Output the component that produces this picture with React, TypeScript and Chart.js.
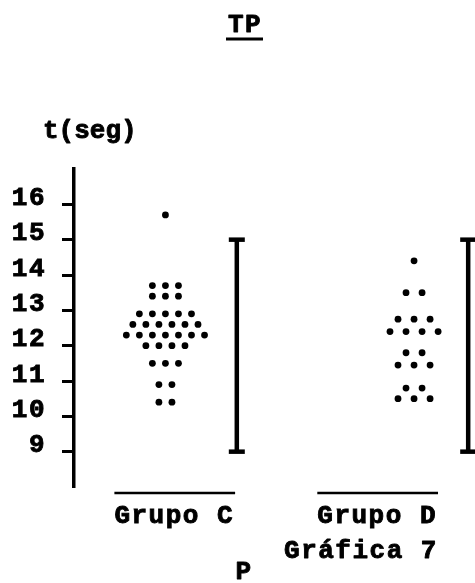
import { useEffect, useRef } from 'react';
import { Chart, registerables } from 'chart.js';

Chart.register(...registerables);

// Text
const chartTitle = 'TP';
const yAxisTitle = 't(seg)';
const groupNames = ['Grupo C', 'Grupo D'];
const caption = 'Gráfica 7';
const footLabel = 'P';

// Y axis ticks (seconds)
const yTicks = [9, 10, 11, 12, 13, 14, 15, 16];

// Individual times (s), one entry per subject
const groupC = [
  15.7,
  13.7, 13.7, 13.7,
  13.4, 13.4, 13.4,
  12.9, 12.9, 12.9, 12.9, 12.9,
  12.6, 12.6, 12.6, 12.6, 12.6, 12.6,
  12.3, 12.3, 12.3, 12.3, 12.3, 12.3, 12.3,
  12.0, 12.0, 12.0, 12.0,
  11.5, 11.5, 11.5,
  10.9, 10.9,
  10.4, 10.4,
];
const groupD = [
  14.4,
  13.5, 13.5,
  12.75, 12.75, 12.75,
  12.4, 12.4, 12.4, 12.4,
  11.8, 11.8,
  11.45, 11.45, 11.45,
  10.8, 10.8,
  10.5, 10.5, 10.5,
];

// Reference range drawn beside each group (s)
const rangeLow = [9, 9];
const rangeHigh = [15, 15];

// Horizontal layout on a 0..100 x scale
const dotCenters = [22.8, 84.8];
const dotSteps = [3.25, 4.0];
const rangeBarX = [40.6, 98.3];
const groupLabelX = [25, 75.6];

const FONT_FAMILY = '"Liberation Mono", "DejaVu Sans Mono", monospace';
const LETTER_SPACING = '1.5px';
const INK_STROKE = 0.9;

// Dots with equal values sit side by side in a row, centred on the group
function dotRows(values: number[], center: number, step: number) {
  const counts = new Map<number, number>();
  values.forEach((v) => counts.set(v, (counts.get(v) || 0) + 1));
  const used = new Map<number, number>();
  return values.map((v) => {
    const n = counts.get(v) || 1;
    const i = used.get(v) || 0;
    used.set(v, i + 1);
    return { x: center + (i - (n - 1) / 2) * step, y: v };
  });
}

const spacingPlugin = {
  id: 'typewriterSpacing',
  beforeDraw(chart: any) {
    (chart.ctx as any).letterSpacing = LETTER_SPACING;
  },
};

// Heavy typewriter-style text: fill plus a thin stroke of the same ink
function typeText(ctx: CanvasRenderingContext2D, text: string, x: number, y: number) {
  ctx.fillText(text, x, y);
  ctx.lineWidth = INK_STROKE;
  ctx.strokeText(text, x, y);
}

const annotationsPlugin = {
  id: 'typedAnnotations',
  afterDraw(chart: any) {
    const { ctx, chartArea, scales } = chart;
    const xs = scales.x;
    ctx.save();
    (ctx as any).letterSpacing = LETTER_SPACING;
    ctx.fillStyle = '#000';
    ctx.strokeStyle = '#000';
    ctx.lineJoin = 'round';
    ctx.textBaseline = 'middle';
    ctx.font = `bold 26px ${FONT_FAMILY}`;

    // Title with underline
    ctx.textAlign = 'center';
    typeText(ctx, chartTitle, 245, 25);
    ctx.lineWidth = 3;
    ctx.beginPath();
    ctx.moveTo(226, 39);
    ctx.lineTo(263, 39);
    ctx.stroke();

    // Axis unit
    (ctx as any).letterSpacing = '0px';
    ctx.textAlign = 'left';
    typeText(ctx, yAxisTitle, 43, 131);
    (ctx as any).letterSpacing = LETTER_SPACING;

    // Line over each group name
    groupNames.forEach((name, i) => {
      const cx = xs.getPixelForValue(groupLabelX[i]);
      const w = ctx.measureText(name).width;
      ctx.lineWidth = 2.5;
      ctx.beginPath();
      ctx.moveTo(cx - w / 2, chartArea.bottom + 6);
      ctx.lineTo(cx + w / 2 + 1, chartArea.bottom + 6);
      ctx.stroke();
    });

    ctx.textAlign = 'center';
    typeText(ctx, caption, 361, 551);
    typeText(ctx, footLabel, 244, 572);
    ctx.restore();
  },
};

export default function App() {
  const canvasRef = useRef<HTMLCanvasElement | null>(null);

  useEffect(() => {
    const canvas = canvasRef.current;
    if (!canvas) return;

    const tickFont = { family: FONT_FAMILY, size: 26, weight: 'bold' as const };

    const chart = new Chart(canvas, {
      type: 'scatter',
      data: {
        datasets: [
          {
            label: groupNames[0],
            data: dotRows(groupC, dotCenters[0], dotSteps[0]),
            pointRadius: 3.4,
            pointBackgroundColor: '#000',
            pointBorderWidth: 0,
          },
          {
            label: groupNames[1],
            data: dotRows(groupD, dotCenters[1], dotSteps[1]),
            pointRadius: 3.4,
            pointBackgroundColor: '#000',
            pointBorderWidth: 0,
          },
          ...rangeBarX.map((bx, i) => ({
            type: 'line' as const,
            label: `range ${groupNames[i]}`,
            data: [
              { x: bx, y: rangeLow[i] },
              { x: bx, y: rangeHigh[i] },
            ],
            showLine: true,
            borderColor: '#000',
            borderWidth: 4.5,
            pointStyle: 'line' as const,
            pointRadius: 8,
            pointBorderWidth: 4.5,
            pointBorderColor: '#000',
            clip: false,
          })),
        ],
      },
      options: {
        responsive: false,
        animation: false,
        events: [],
        layout: { autoPadding: false, padding: { top: 169, bottom: 36, left: 0, right: 0 } },
        plugins: {
          legend: { display: false },
          tooltip: { enabled: false },
          title: { display: false },
        },
        scales: {
          x: {
            type: 'linear',
            min: 0,
            max: 100,
            grid: { display: false },
            border: { display: false },
            afterBuildTicks: (scale: any) => {
              scale.ticks = groupLabelX.map((v) => ({ value: v }));
            },
            afterFit: (scale: any) => {
              scale.height = 60;
              scale.paddingLeft = 0;
              scale.paddingRight = 0;
            },
            ticks: {
              autoSkip: false,
              maxRotation: 0,
              padding: 6,
              color: '#000',
              textStrokeColor: '#000',
              textStrokeWidth: INK_STROKE,
              font: tickFont,
              callback: (_v: any, i: number) => groupNames[i],
            },
          },
          y: {
            type: 'linear',
            min: 8,
            max: 17,
            afterBuildTicks: (scale: any) => {
              scale.ticks = yTicks.map((v) => ({ value: v }));
            },
            afterFit: (scale: any) => {
              scale.width = 74;
              scale.paddingTop = 0;
              scale.paddingBottom = 0;
            },
            grid: {
              drawOnChartArea: false,
              drawTicks: true,
              tickLength: 12,
              tickWidth: 3,
              color: '#000',
            },
            border: { display: true, color: '#000', width: 3.5 },
            ticks: {
              padding: 16,
              labelOffset: -6,
              color: '#000',
              textStrokeColor: '#000',
              textStrokeWidth: INK_STROKE,
              font: tickFont,
              callback: (v: any) => String(v),
            },
          },
        },
      },
      plugins: [spacingPlugin, annotationsPlugin],
    });

    return () => chart.destroy();
  }, []);

  return (
    <div style={{ position: 'fixed', left: 0, top: 0, width: 475, height: 583, background: '#fff' }}>
      <canvas ref={canvasRef} width={475} height={583} />
    </div>
  );
}
